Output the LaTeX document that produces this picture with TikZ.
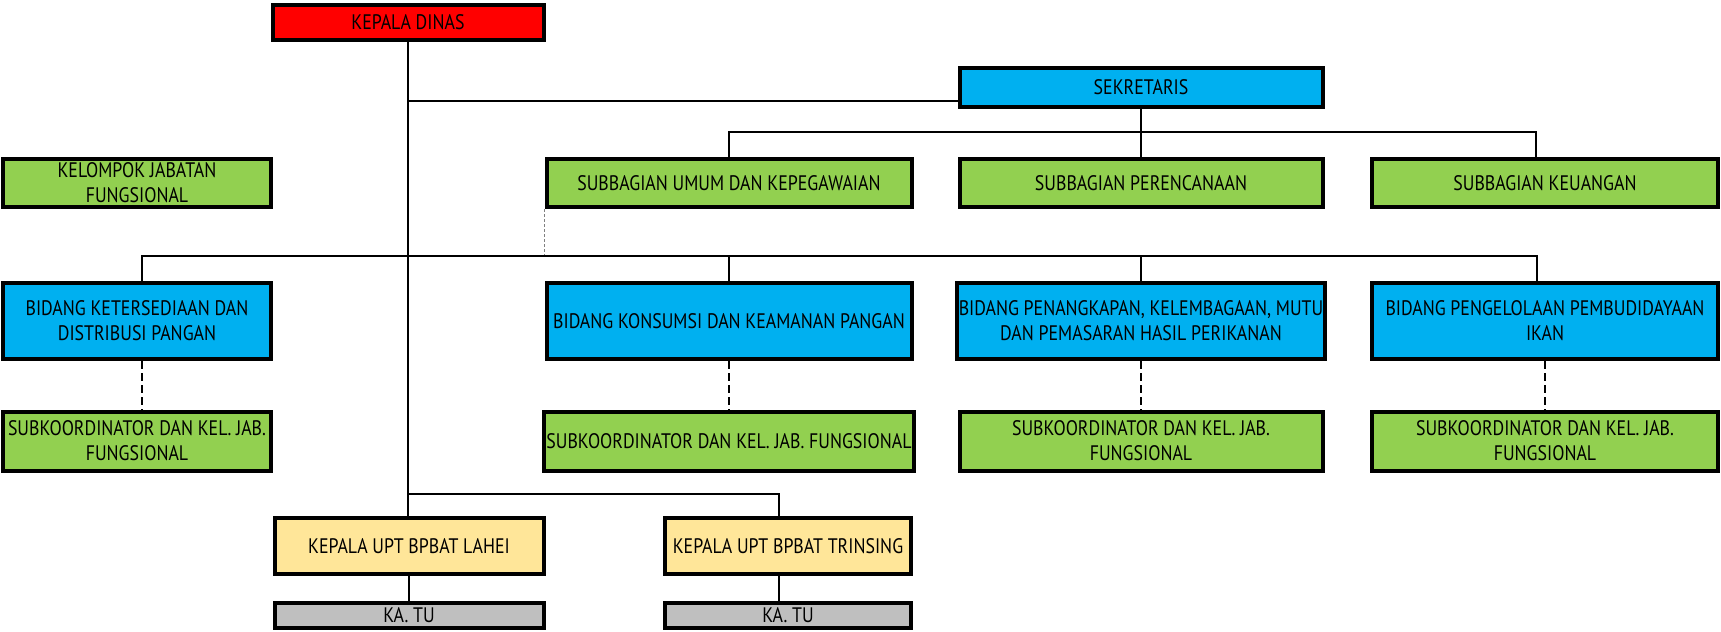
\documentclass[tikz,border=0pt]{standalone}
\usepackage{fontspec}
\setmainfont[FakeStretch=0.85]{PT Sans}
\definecolor{merah}{HTML}{FF0000}
\definecolor{biru}{HTML}{00B0F0}
\definecolor{hijau}{HTML}{92D050}
\definecolor{kuning}{HTML}{FFE699}
\definecolor{abu}{HTML}{BFBFBF}
\begin{document}
\begin{tikzpicture}[x=0.5pt,y=-0.5pt,
  unit/.style={draw=black,line width=2pt,align=center,inner sep=1pt,font=\fontsize{10.5}{12.5}\selectfont},
  colA/.style={minimum width=134pt},
  colB/.style={minimum width=182.5pt},
  colC/.style={minimum width=181.5pt},
  colD/.style={minimum width=173pt},
  garis/.style={line width=1pt},
  putus/.style={line width=1pt,dash pattern=on 4pt off 2pt},
  titik/.style={line width=0.5pt,gray,dash pattern=on 1.5pt off 1pt}]
  \useasboundingbox (0,0) rectangle (1721,632);
  % pimpinan
  \node[unit,fill=merah,minimum width=135.5pt,minimum height=17.5pt] (kadis) at (408,22) {KEPALA DINAS};
  \node[unit,fill=biru,colC,minimum height=19.5pt] (sek) at (1141,87) {SEKRETARIS};
  % subbagian
  \node[unit,fill=hijau,colA,minimum height=24pt] (kjf) at (137,183) {KELOMPOK JABATAN\\FUNGSIONAL};
  \node[unit,fill=hijau,colB,minimum height=24pt] (umum) at (729,183) {SUBBAGIAN UMUM DAN KEPEGAWAIAN};
  \node[unit,fill=hijau,colC,minimum height=24pt] (renc) at (1141,183) {SUBBAGIAN PERENCANAAN};
  \node[unit,fill=hijau,colD,minimum height=24pt] (keu) at (1545,183) {SUBBAGIAN KEUANGAN};
  % bidang
  \node[unit,fill=biru,colA,minimum height=38pt] (bid1) at (137,321) {BIDANG KETERSEDIAAN DAN\\DISTRIBUSI PANGAN};
  \node[unit,fill=biru,colB,minimum height=38pt] (bid2) at (729,321) {BIDANG KONSUMSI DAN KEAMANAN PANGAN};
  \node[unit,fill=biru,colC,minimum height=38pt] (bid3) at (1141,321) {BIDANG PENANGKAPAN, KELEMBAGAAN, MUTU\\DAN PEMASARAN HASIL PERIKANAN};
  \node[unit,fill=biru,colD,minimum height=38pt] (bid4) at (1545,321) {BIDANG PENGELOLAAN PEMBUDIDAYAAN\\IKAN};
  % subkoordinator
  \node[unit,fill=hijau,colA,minimum height=29.5pt] (sub1) at (137,441) {SUBKOORDINATOR DAN KEL. JAB.\\FUNGSIONAL};
  \node[unit,fill=hijau,colB,minimum height=29.5pt] (sub2) at (729,441) {SUBKOORDINATOR DAN KEL. JAB. FUNGSIONAL};
  \node[unit,fill=hijau,colC,minimum height=29.5pt] (sub3) at (1141,441) {SUBKOORDINATOR DAN KEL. JAB.\\FUNGSIONAL};
  \node[unit,fill=hijau,colD,minimum height=29.5pt] (sub4) at (1545,441) {SUBKOORDINATOR DAN KEL. JAB.\\FUNGSIONAL};
  % UPT
  \node[unit,fill=kuning,minimum width=134.5pt,minimum height=28pt] (lahei) at (409,546) {KEPALA UPT BPBAT LAHEI};
  \node[unit,fill=kuning,minimum width=123pt,minimum height=28pt] (trin) at (788,546) {KEPALA UPT BPBAT TRINSING};
  \node[unit,fill=abu,minimum width=134.5pt,minimum height=12.5pt] (tu1) at (409,615) {KA. TU};
  \node[unit,fill=abu,minimum width=123pt,minimum height=12.5pt] (tu2) at (788,615) {KA. TU};
  % garis
  \coordinate (jalur1) at (0,132);
  \coordinate (jalur2) at (0,256);
  \coordinate (jalur3) at (0,494);
  \coordinate (sekIn) at ([yshift=-7pt]sek.west);
  \draw[garis] (kadis.south) -- (kadis.south |- lahei.north);
  \draw[garis] (kadis.south |- sekIn) -- (sekIn);
  \draw[garis] (sek.south) -- (renc.north);
  \draw[garis] (umum.north) -- (umum.north |- jalur1) -| ([xshift=-4.5pt]keu.north);
  \draw[titik] (umum.south west) -- (umum.south west |- jalur2);
  \draw[garis] ([xshift=2.5pt]bid1.north) -- ([xshift=2.5pt]bid1.north |- jalur2) -| ([xshift=-4pt]bid4.north);
  \draw[garis] (bid2.north) -- (bid2.north |- jalur2);
  \draw[garis] (bid3.north) -- (bid3.north |- jalur2);
  \draw[putus] ([xshift=2.5pt]bid1.south) -- ([xshift=2.5pt]sub1.north);
  \foreach \i in {2,...,4}
    \draw[putus] (bid\i.south) -- (sub\i.north);
  \draw[garis] (kadis.south |- jalur3) -| ([xshift=-4.5pt]trin.north);
  \draw[garis] (lahei.south) -- (tu1.north);
  \draw[garis] ([xshift=-4.5pt]trin.south) -- ([xshift=-4.5pt]tu2.north);
\end{tikzpicture}
\end{document}
